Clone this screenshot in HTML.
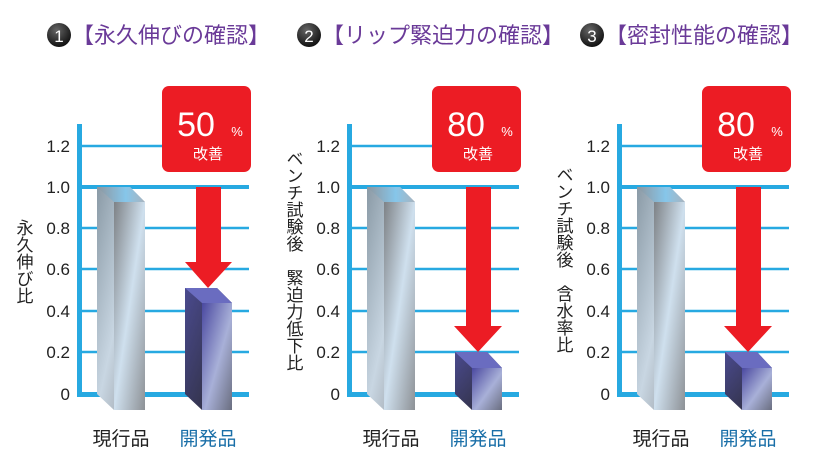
<!DOCTYPE html>
<html><head><meta charset="utf-8">
<style>
html,body{margin:0;padding:0;background:#fff;}
svg{display:block;}
text{font-family:"Liberation Sans","Noto Sans CJK JP",sans-serif;}
.tk{font-size:17px;fill:#222;text-anchor:end;}
.tt{font-size:22px;fill:#6a3a98;}
.xl{font-size:19px;text-anchor:middle;}
.vl{font-size:17px;fill:#222;writing-mode:tb;glyph-orientation-vertical:0;}
</style></head><body>
<svg width="822" height="467" viewBox="0 0 822 467" xmlns="http://www.w3.org/2000/svg">
<defs>
<linearGradient id="gb" x1="0" y1="0" x2="1" y2="1">
<stop offset="0" stop-color="#8a9aa6"/><stop offset="0.5" stop-color="#c8d6e2"/><stop offset="1" stop-color="#8b8e93"/></linearGradient>
<linearGradient id="gf" x1="0" y1="0" x2="1" y2="1">
<stop offset="0" stop-color="#7e8286"/><stop offset="0.5" stop-color="#cfe0ee"/><stop offset="1" stop-color="#8d9196"/></linearGradient>
<linearGradient id="pb" x1="0" y1="0" x2="1" y2="1">
<stop offset="0" stop-color="#4a4a8e"/><stop offset="1" stop-color="#2a2a30"/></linearGradient>
<linearGradient id="pf" x1="0" y1="0" x2="1" y2="1">
<stop offset="0" stop-color="#4a48a0"/><stop offset="0.55" stop-color="#a8b0d8"/><stop offset="1" stop-color="#6a6e80"/></linearGradient>
<linearGradient id="tp" x1="0" y1="0" x2="1" y2="0">
<stop offset="0" stop-color="#8e969e"/><stop offset="0.6" stop-color="#86c6ea"/><stop offset="1" stop-color="#a8b4bf"/></linearGradient>
<radialGradient id="ci" cx="0.4" cy="0.3" r="0.7"><stop offset="0" stop-color="#666"/><stop offset="1" stop-color="#111"/></radialGradient>
</defs>

<!-- Panel 1 -->
<g>
<circle cx="59" cy="35" r="12" fill="url(#ci)"/><text x="59" y="42" fill="#fff" font-size="17" text-anchor="middle">1</text>
<text class="tt" x="72" y="43">【永久伸びの確認】</text>
<g stroke="#27a9e1" stroke-width="2.5">
<line x1="80" y1="146" x2="249" y2="146"/><line x1="80" y1="187" x2="249" y2="187" stroke-width="4"/>
<line x1="80" y1="228" x2="249" y2="228"/><line x1="80" y1="269" x2="249" y2="269"/>
<line x1="80" y1="311" x2="249" y2="311"/><line x1="80" y1="352" x2="249" y2="352"/>
</g>
<rect x="77" y="124" width="5" height="273" fill="#27a9e1"/><rect x="77" y="392" width="172" height="5" fill="#27a9e1"/>
<text class="tk" x="70" y="152">1.2</text><text class="tk" x="70" y="193">1.0</text><text class="tk" x="70" y="234">0.8</text>
<text class="tk" x="70" y="275">0.6</text><text class="tk" x="70" y="317">0.4</text><text class="tk" x="70" y="358">0.2</text><text class="tk" x="70" y="400">0</text>
<text class="vl" x="23" y="219">永久伸び比</text>
<polygon points="97,187 130,187 145,202 145,410 114,410 97,394" fill="url(#gb)"/>
<polygon points="97,187 130,187 145,202 114,202" fill="url(#tp)"/>
<rect x="114" y="202" width="31" height="208" fill="url(#gf)"/>
<polygon points="185,288 217,288 232,303 232,410 202,410 185,394" fill="url(#pb)"/>
<polygon points="185,288 217,288 232,303 202,303" fill="#6a6cc0"/>
<rect x="202" y="303" width="30" height="107" fill="url(#pf)"/>
<rect x="196" y="187" width="25" height="76" fill="#ec1c24"/><polygon points="185,262 232,262 208,288" fill="#ec1c24"/>
<rect x="162" y="86" width="89" height="86" rx="7" fill="#ec1c24"/>
<text x="196" y="136" fill="#fff" font-size="34" text-anchor="middle">50</text><text x="237" y="136" fill="#fff" font-size="13" text-anchor="middle">%</text>
<text x="208" y="159" fill="#fff" font-size="15" text-anchor="middle">改善</text>
<text class="xl" x="121" y="445" fill="#222">現行品</text><text class="xl" x="208" y="445" fill="#1a6fa8">開発品</text>
</g>

<!-- Panel 2 -->
<g transform="translate(270,0)">
<g stroke="#27a9e1" stroke-width="2.5">
<line x1="80" y1="146" x2="249" y2="146"/><line x1="80" y1="187" x2="249" y2="187" stroke-width="4"/>
<line x1="80" y1="228" x2="249" y2="228"/><line x1="80" y1="269" x2="249" y2="269"/>
<line x1="80" y1="311" x2="249" y2="311"/><line x1="80" y1="352" x2="249" y2="352"/>
</g>
<rect x="77" y="124" width="5" height="273" fill="#27a9e1"/><rect x="77" y="392" width="172" height="5" fill="#27a9e1"/>
<text class="tk" x="70" y="152">1.2</text><text class="tk" x="70" y="193">1.0</text><text class="tk" x="70" y="234">0.8</text>
<text class="tk" x="70" y="275">0.6</text><text class="tk" x="70" y="317">0.4</text><text class="tk" x="70" y="358">0.2</text><text class="tk" x="70" y="400">0</text>
<text class="vl" x="23" y="150">ベンチ試験後　緊迫力低下比</text>
<polygon points="97,187 130,187 145,202 145,410 114,410 97,394" fill="url(#gb)"/>
<polygon points="97,187 130,187 145,202 114,202" fill="url(#tp)"/>
<rect x="114" y="202" width="31" height="208" fill="url(#gf)"/>
<polygon points="185,352 217,352 232,368 232,410 202,410 185,394" fill="url(#pb)"/>
<polygon points="185,352 217,352 232,368 202,368" fill="#6a6cc0"/>
<rect x="202" y="368" width="30" height="42" fill="url(#pf)"/>
<rect x="196" y="187" width="25" height="140" fill="#ec1c24"/><polygon points="184,326 232,326 208,352" fill="#ec1c24"/>
<rect x="162" y="86" width="89" height="86" rx="7" fill="#ec1c24"/>
<text x="196" y="136" fill="#fff" font-size="34" text-anchor="middle">80</text><text x="237" y="136" fill="#fff" font-size="13" text-anchor="middle">%</text>
<text x="208" y="159" fill="#fff" font-size="15" text-anchor="middle">改善</text>
<text class="xl" x="121" y="445" fill="#222">現行品</text><text class="xl" x="208" y="445" fill="#1a6fa8">開発品</text>
</g>
<circle cx="309" cy="35" r="12" fill="url(#ci)"/><text x="309" y="42" fill="#fff" font-size="17" text-anchor="middle">2</text>
<text class="tt" x="322" y="43">【リップ緊迫力の確認】</text>

<!-- Panel 3 -->
<g transform="translate(540,0)">
<g stroke="#27a9e1" stroke-width="2.5">
<line x1="80" y1="146" x2="249" y2="146"/><line x1="80" y1="187" x2="249" y2="187" stroke-width="4"/>
<line x1="80" y1="228" x2="249" y2="228"/><line x1="80" y1="269" x2="249" y2="269"/>
<line x1="80" y1="311" x2="249" y2="311"/><line x1="80" y1="352" x2="249" y2="352"/>
</g>
<rect x="77" y="124" width="5" height="273" fill="#27a9e1"/><rect x="77" y="392" width="172" height="5" fill="#27a9e1"/>
<text class="tk" x="70" y="152">1.2</text><text class="tk" x="70" y="193">1.0</text><text class="tk" x="70" y="234">0.8</text>
<text class="tk" x="70" y="275">0.6</text><text class="tk" x="70" y="317">0.4</text><text class="tk" x="70" y="358">0.2</text><text class="tk" x="70" y="400">0</text>
<text class="vl" x="23" y="166">ベンチ試験後　含水率比</text>
<polygon points="97,187 130,187 145,202 145,410 114,410 97,394" fill="url(#gb)"/>
<polygon points="97,187 130,187 145,202 114,202" fill="url(#tp)"/>
<rect x="114" y="202" width="31" height="208" fill="url(#gf)"/>
<polygon points="185,352 217,352 232,368 232,410 202,410 185,394" fill="url(#pb)"/>
<polygon points="185,352 217,352 232,368 202,368" fill="#6a6cc0"/>
<rect x="202" y="368" width="30" height="42" fill="url(#pf)"/>
<rect x="196" y="187" width="25" height="140" fill="#ec1c24"/><polygon points="184,326 232,326 208,352" fill="#ec1c24"/>
<rect x="162" y="86" width="89" height="86" rx="7" fill="#ec1c24"/>
<text x="196" y="136" fill="#fff" font-size="34" text-anchor="middle">80</text><text x="237" y="136" fill="#fff" font-size="13" text-anchor="middle">%</text>
<text x="208" y="159" fill="#fff" font-size="15" text-anchor="middle">改善</text>
<text class="xl" x="121" y="445" fill="#222">現行品</text><text class="xl" x="208" y="445" fill="#1a6fa8">開発品</text>
</g>
<circle cx="592" cy="35" r="12" fill="url(#ci)"/><text x="592" y="42" fill="#fff" font-size="17" text-anchor="middle">3</text>
<text class="tt" x="605" y="43">【密封性能の確認】</text>
</svg>
</body></html>
